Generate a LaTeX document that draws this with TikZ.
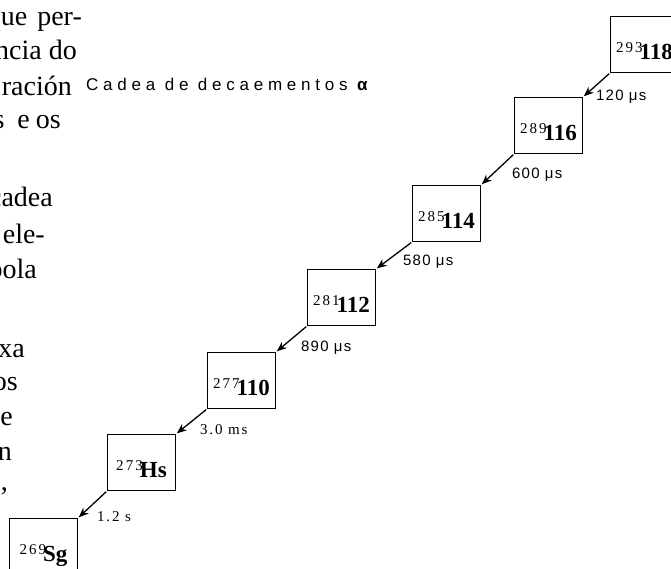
\documentclass[tikz,border=0pt]{standalone}
\usepackage{fontspec}
\setmainfont{Liberation Serif}
\setsansfont{Liberation Sans}
\newfontfamily\labsans[LetterSpace=8]{Liberation Sans}
\newfontfamily\titlesans[LetterSpace=28]{Liberation Sans}
\newfontfamily\labserif[LetterSpace=12]{Liberation Serif}
\newfontfamily\supserif[LetterSpace=14]{Liberation Serif}
\usetikzlibrary{calc,arrows.meta}
\newcommand\nucl[2]{\raisebox{7pt}{\fontsize{15}{15}\supserif #1}\kern-3pt{\fontsize{23}{23}\selectfont\bfseries #2}}
\begin{document}
\begin{tikzpicture}[x=1pt,y=-1pt,
  box/.style={draw, line width=1pt, minimum width=68pt, minimum height=56pt, inner sep=0pt,
    anchor=north west, text height=29pt, text depth=0pt},
  arr/.style={-{Stealth[length=10pt,width=8pt]}, line width=1.3pt, shorten <=1pt, shorten >=1pt},
  labmu/.style={anchor=west, inner sep=0pt, font=\fontsize{15}{15}\labsans},
  labs/.style={anchor=west, inner sep=0pt, font=\fontsize{15}{15}\labserif},
  para/.style={anchor=base east, inner sep=0pt, font=\fontsize{28}{34}\selectfont},
  title/.style={anchor=west, inner sep=0pt, font=\fontsize{17}{17}\titlesans},
]
\useasboundingbox (0,0) rectangle (671,568);
\clip (0,0) rectangle (671,568);
% paragraph fragments on the left
\node[para] (p1) at (82,25) {que\hspace{3pt} per-};
\node[para] (p2) at (77,59) {encia do};
\node[para] (p3) at (72,95) {ración};
\node[para] (p4) at (61,128) {s\hspace{13pt}e\hspace{6pt}os};
\node[para] (p5) at (53,206) {cadea};
\node[para] (p6) at (45,243) {ele-};
\node[para] (p7) at (37,278) {pola};
\node[para] (p8) at (25,357) {xa};
\node[para] (p9) at (18,390) {os};
\node[para] (p10) at (13,425) {e};
\node[para] (p11) at (12,460) {n};
\node[para] (p12) at (8,490) {,};
% title
\node[title] (t) at (86,84) {Cadea de decaementos {\bfseries α}};
% boxes
\node[box] (b118) at (610,16) {\nucl{293}{118}};
\node[box] (b116) at (514,97) {\nucl{289}{116}};
\node[box] (b114) at (412,185) {\nucl{285}{114}};
\node[box] (b112) at (307,269) {\nucl{281}{112}};
\node[box] (b110) at (207,352) {\nucl{277}{110}};
\node[box] (bHs) at (107,434) {\nucl{273}{Hs}};
\node[box] (bSg) at (9,518) {\nucl{269}{Sg}};
% arrows
\draw[arr] (b118.south west) -- (b116.north east);
\draw[arr] (b116.south west) -- (b114.north east);
\draw[arr] (b114.south west) -- (b112.north east);
\draw[arr] (b112.south west) -- (b110.north east);
\draw[arr] (b110.south west) -- (bHs.north east);
\draw[arr] (bHs.south west) -- (bSg.north east);
% labels
\node[labmu] (l1) at (596,97) {120 μs};
\node[labmu] (l2) at (512,175) {600 μs};
\node[labmu] (l3) at (403,262) {580 μs};
\node[labmu] (l4) at (301,348) {890 μs};
\node[labs] (l5) at (200,430) {3.0 ms};
\node[labs] (l6) at (97,517) {1.2 s};
\end{tikzpicture}
\end{document}
